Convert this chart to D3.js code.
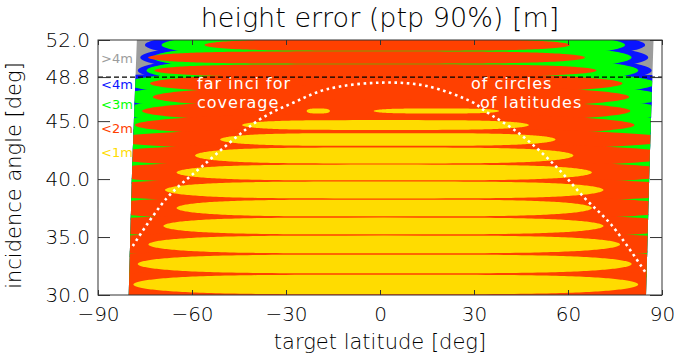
<!DOCTYPE html>
<html>
<head>
<meta charset="utf-8">
<script src="https://cdn.jsdelivr.net/npm/d3@7"></script>
<style>
  body { margin: 0; background: #fff; }
  svg { display: block; }
  text { font-family: "DejaVu Sans", sans-serif; }
  .thin { font-weight: 200; }
</style>
</head>
<body>
<svg id="chart" width="674" height="358"></svg>
<script>
// ---- axis ticks ----
const latTicks = [-90, -60, -30, 0, 30, 60, 90];
const incTicks = [30.0, 35.0, 40.0, 45.0, 48.8, 52.0];
const incLimit = 48.8;

// ---- error classes ----
const levelNames = [">4m", "<4m", "<3m", "<2m", "<1m"];
const levelColors = ["#9c9c9c", "#0a14ff", "#00ff00", "#ff4000", "#ffdc00"];

// ---- incidence-angle bands (band i lies between edge i and edge i+1) ----
const bandEdges = [52.09, 51.05, 49.93, 48.81, 47.69, 46.48, 45.27, 44.06,
                   42.77, 41.30, 39.84, 38.28, 36.73, 35.18, 33.54, 31.81, 30.00];

// ---- latitude limits of the simulated coverage ----
const edgeInc = [30, 41, 52];
const edgeLatLeft = [-80.2, -79.1, -77.6];
const edgeLatRight = [84.9, 86.0, 87.3];

// ---- lobes of each error class: [band, west end lat, east end lat, (thickness)] ----
const blueLobes = [
  [0, -75, 84.6, 3.0], [1, -76.5, 85.6, 3.0], [2, -77.3, 86.7, 3.0],
  [3, -130, 135], [4, -130, 135], [5, -130, 135], [6, -130, 135], [7, -130, 135],
  [8, -130, 135], [9, -130, 135], [10, -130, 135], [11, -130, 135], [12, -130, 135],
  [13, -130, 135], [14, -130, 135], [15, -130, 135]
];
const greenLobes = [
  [0, -69.7, 78.2, 2.5], [1, -72.5, 80.3, 2.5], [2, -74.5, 82.4, 2.5],
  [3, -81, 88, 2.5], [4, -83, 90.2, 2.5], [5, -84.3, 92.3, 2.5], [6, -86, 94.5, 2.5],
  [7, -130, 135], [8, -130, 135], [9, -130, 135], [10, -130, 135], [11, -130, 135],
  [12, -130, 135], [13, -130, 135], [14, -130, 135], [15, -130, 135]
];
const redLobes = [
  [0, -56, 60.6, 0.95], [1, -74, 65.4, 0.95], [2, -72, 69.1, 0.95],
  [3, -73.4, 77.4, 1.7], [4, -72.5, 79.5, 1.7], [5, -75.9, 79.9, 1.7], [6, -78.2, 81.2, 1.7],
  [7, -86.2, 93.2], [8, -89.9, 95.9], [9, -93, 97.5], [10, -96.6, 103.6],
  [11, -93.6, 98.1], [12, -98.6, 101.6], [13, -102, 105.5], [14, -106.6, 110.6],
  [15, -110.6, 114.6]
];
const yellowLobes = [
  [5, -23.4, -16, 0.35], [5, -2, 38, 0.35],
  [6, -44, 47.5, 0.7], [7, -51, 56, 0.85], [8, -59, 61.7], [9, -64.9, 67.6],
  [10, -68.6, 71.3], [11, -64.9, 67.6], [12, -69.1, 71.3], [13, -73.9, 76.6],
  [14, -77.3, 80.3], [15, -78.7, 82.4]
];

// ---- coverage limit of circles of latitude ----
const curveLat = [-78.9, -68.1, -56.9, -38.3, -27.7, -17.0, 0, 14.9, 29.8, 33.5, 44.1, 55.9, 65.4, 73.9, 84.6];
const curveInc = [34.23, 38.34, 41.07, 45.16, 46.59, 47.75, 48.32, 48.03, 46.59, 45.88, 44.0, 41.16, 38.34, 36.04, 32.0];

// ---------------------------------------------------------------
const svg = d3.select("#chart");
const margin = { left: 98, right: 12, top: 40, bottom: 63 };
const W = 674, H = 358;
const x = d3.scaleLinear().domain([-90, 90]).range([margin.left, W - margin.right]);
const y = d3.scaleLinear().domain([30, 52]).range([H - margin.bottom, margin.top]);

// coverage area polygon used as clip
const defs = svg.append("defs");
const leftPts = edgeInc.map((v, i) => [x(edgeLatLeft[i]), y(v)]);
const rightPts = edgeInc.map((v, i) => [x(edgeLatRight[i]), y(v)]).reverse();
defs.append("clipPath").attr("id", "cover")
  .append("path").attr("d", d3.line()([...leftPts, ...rightPts]) + "Z");

const field = svg.append("g").attr("clip-path", "url(#cover)");
field.append("rect")
  .attr("x", margin.left).attr("y", margin.top)
  .attr("width", x(90) - x(-90)).attr("height", y(30) - y(52))
  .attr("fill", levelColors[0]);

// one lobe: a horizontal (super)ellipse spanning its latitude range inside its band
const lobeFill = { 1: 1.7, 2: 1.7, 3: 1.55, 4: 0.93 };
function lobePath(d, level) {
  const k = d[3] !== undefined ? d[3] : lobeFill[level];
  const cx = (x(d[1]) + x(d[2])) / 2, rx = (x(d[2]) - x(d[1])) / 2;
  const cy = (y(bandEdges[d[0]]) + y(bandEdges[d[0] + 1])) / 2;
  const ry = k * (y(bandEdges[d[0] + 1]) - y(bandEdges[d[0]])) / 2;
  const p = k < 1 ? 4 : 2;
  const pts = d3.range(0, 2 * Math.PI, Math.PI / 120).map(a => {
    const c = Math.cos(a), s = Math.sin(a);
    return [cx + rx * Math.sign(c) * Math.pow(Math.abs(c), 2 / p), cy + ry * s];
  });
  return d3.line().curve(d3.curveLinearClosed)(pts);
}
[blueLobes, greenLobes, redLobes, yellowLobes].forEach((lobes, li) => {
  const level = li + 1;
  field.append("g").selectAll("path").data(lobes).join("path")
    .attr("d", d => lobePath(d, level))
    .attr("fill", levelColors[level]);
});

// limit of latitude circles (dotted)
svg.append("path")
  .datum(curveLat.map((v, i) => [v, curveInc[i]]))
  .attr("d", d3.line().x(d => x(d[0])).y(d => y(d[1])).curve(d3.curveCatmullRom))
  .attr("fill", "none").attr("stroke", "#fff")
  .attr("stroke-width", 2.6).attr("stroke-dasharray", "2.6 3.6");

// incidence limit (dashed)
svg.append("line")
  .attr("x1", x(-90)).attr("x2", x(90))
  .attr("y1", y(incLimit)).attr("y2", y(incLimit))
  .attr("stroke", "#000").attr("stroke-width", 1.2).attr("stroke-dasharray", "5 3");

// annotations (two-line notes)
const notes = svg.append("g").attr("fill", "#fff").attr("font-size", 16)
  .attr("letter-spacing", 1);
const noteL = notes.append("text").attr("y", 89);
noteL.append("tspan").attr("x", 197).text("far inci for");
noteL.append("tspan").attr("x", 197).attr("dy", 19).text("coverage");
const noteR = notes.append("text").attr("y", 89);
noteR.append("tspan").attr("x", 471).text("of circles");
noteR.append("tspan").attr("x", 480).attr("dy", 19).text("of latitudes");

// legend of error classes
const legendY = [63, 89, 109, 133, 157];
svg.append("g").selectAll("text").data(levelNames).join("text")
  .attr("x", 101).attr("y", (d, i) => legendY[i])
  .attr("font-size", 13)
  .attr("fill", (d, i) => levelColors[i])
  .text(d => d);

// frame and inward ticks
function styleAxis(g, fs) {
  g.select(".domain").remove();
  g.selectAll(".tick line").attr("stroke", "#333");
  g.selectAll("text").attr("fill", "#000").attr("font-size", fs)
    .attr("font-family", "DejaVu Sans, sans-serif").attr("class", "thin");
  g.attr("font-family", null).attr("font-size", null);
}
svg.append("g").attr("transform", `translate(0,${y(30)})`)
  .call(d3.axisBottom(x).tickValues(latTicks).tickSize(-5).tickSizeOuter(0)
        .tickPadding(12).tickFormat(d3.format("d")))
  .call(g => styleAxis(g, 20));
svg.append("g").attr("transform", `translate(0,${y(52)})`)
  .call(d3.axisTop(x).tickValues(latTicks).tickSize(-5).tickSizeOuter(0).tickFormat(() => ""))
  .call(g => styleAxis(g, 20));
svg.append("g").attr("transform", `translate(${x(-90)},0)`)
  .call(d3.axisLeft(y).tickValues(incTicks).tickSize(-12).tickSizeOuter(0)
        .tickPadding(8).tickFormat(d3.format(".1f")))
  .call(g => styleAxis(g, 20));
svg.append("g").attr("transform", `translate(${x(90)},0)`)
  .call(d3.axisRight(y).tickValues(incTicks).tickSize(-12).tickSizeOuter(0).tickFormat(() => ""))
  .call(g => styleAxis(g, 20));

svg.append("rect")
  .attr("x", x(-90)).attr("y", y(52))
  .attr("width", x(90) - x(-90)).attr("height", y(30) - y(52))
  .attr("fill", "none").attr("stroke", "#333").attr("stroke-width", 1);

// titles
svg.append("text").attr("class", "thin").attr("x", x(0)).attr("y", 27).attr("text-anchor", "middle")
  .attr("font-size", 27).text("height error (ptp 90%) [m]");
svg.append("text").attr("class", "thin").attr("x", x(0)).attr("y", 349).attr("text-anchor", "middle")
  .attr("font-size", 21).text("target latitude [deg]");
svg.append("text").attr("class", "thin")
  .attr("transform", `translate(21,${(y(30) + y(52)) / 2 + 8}) rotate(-90)`)
  .attr("text-anchor", "middle").attr("font-size", 21).text("incidence angle [deg]");
</script>
</body>
</html>
